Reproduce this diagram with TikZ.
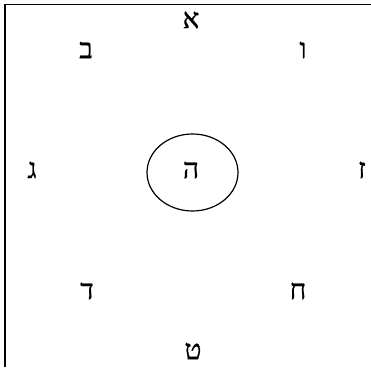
\documentclass[tikz,border=0pt]{standalone}
\usepackage{fontspec}
\newfontfamily\hebfont[Script=Hebrew, FakeBold=0.8]{Liberation Serif}
\TeXXeTstate=1
\usetikzlibrary{shapes.geometric}
\tikzset{
  letra/.style={
    inner sep=0pt,
    font=\hebfont\fontsize{28}{28}\selectfont
  },
  centro/.style={
    draw, line width=1.2pt, ellipse,
    minimum width=91pt,
    minimum height=77pt
  },
  marco/.style={line width=1.5pt, black}
}
\newcommand{\heb}[1]{\beginR #1\endR}

\begin{document}
\begin{tikzpicture}[x=1pt, y=1pt]
\useasboundingbox (0,0) rectangle (371,367);

% marco (arriba e izquierda)
\coordinate (mtr) at (371,362.5);
\coordinate (mtl) at (5,362.5);
\coordinate (mbl) at (5,0);
\draw[marco] (mtr) -- (mtl) -- (mbl);

% letras
\node[letra] (alef)  at (191,347) {\heb{א}};
\node[letra] (bet)   at (86,317)  {\heb{ב}};
\node[letra] (vav)   at (303,317) {\heb{ו}};
\node[letra] (gimel) at (32,197)  {\heb{ג}};
\node[letra] (zayin) at (362,197) {\heb{ז}};
\node[letra] (dalet) at (87,76)   {\heb{ד}};
\node[letra] (het)   at (298,76)  {\heb{ח}};
\node[letra] (tet)   at (193,16)  {\heb{ט}};

% centro con elipse
\node[centro] (elipse) at (192.5,194.5) {};
\node[letra] (he) at (191,197) {\heb{ה}};

\end{tikzpicture}
\end{document}
